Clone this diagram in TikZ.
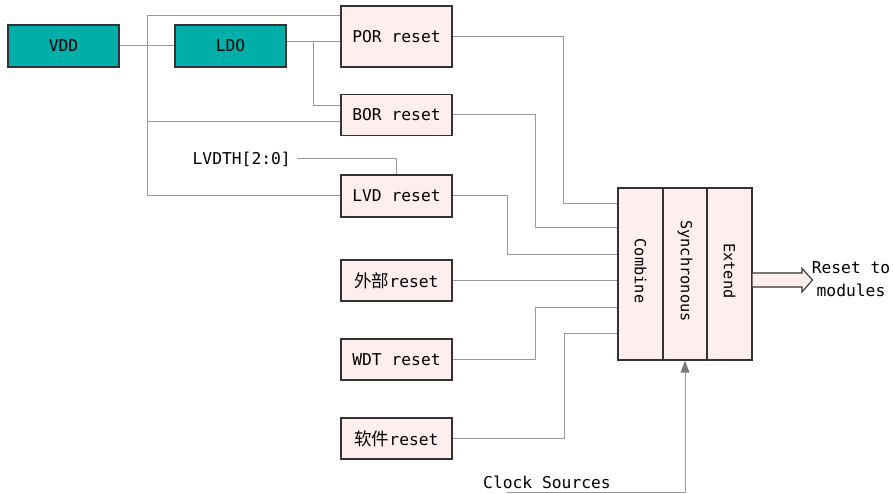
\documentclass[tikz,border=0pt]{standalone}
\usepackage{fontspec}
\setmonofont{DejaVu Sans Mono}
\newfontfamily\cjk{Noto Sans CJK SC}
\definecolor{teal1}{HTML}{00AFAA}
\definecolor{pink1}{HTML}{FFEEEE}
\definecolor{wire1}{HTML}{999999}
\definecolor{edge1}{HTML}{333333}
\begin{document}
\begin{tikzpicture}[x=1pt,y=-1pt,
  every node/.style={font=\ttfamily\fontsize{16.3}{23}\selectfont, inner sep=0pt},
  pwr/.style={draw=edge1, line width=1.1pt, fill=teal1, minimum width=111pt, minimum height=42pt},
  rbox/.style={draw=edge1, line width=1.1pt, fill=pink1, minimum width=111pt, minimum height=41pt},
  col/.style={draw=edge1, line width=1.1pt, fill=pink1, minimum height=172pt},
  wire/.style={draw=wire1, line width=1pt},
  lbl/.style={rotate=-90, font=\ttfamily\fontsize{15.3}{18}\selectfont}]
\useasboundingbox (0,0) rectangle (893,494);
% boxes
\node[pwr] (vdd) at (63.5,46) {VDD};
\node[pwr] (ldo) at (230.5,46) {LDO};
\node[rbox, minimum height=61pt] (por) at (396.5,36.5) {POR reset};
\node[rbox] (bor) at (396.5,115) {BOR reset};
\node[rbox, minimum height=42pt] (lvd) at (396.5,196) {LVD reset};
\node[rbox] (ext) at (396.5,280.5) {{\cjk\fontsize{17.5}{20}\selectfont 外部}reset};
\node[rbox] (wdt) at (396.5,359.5) {WDT reset};
\node[rbox] (sw) at (396.5,438.5) {{\cjk\fontsize{17.5}{20}\selectfont 软件}reset};
\node[col, minimum width=45pt] (comb) at (640.5,274) {};
\node[col, minimum width=44pt] (sync) at (685,274) {};
\node[col, minimum width=45pt] (extd) at (729.5,274) {};
\node[lbl] (tcomb) at (640.5,271) {Combine};
\node[lbl] (tsync) at (685,271) {Synchronous};
\node[lbl] (text) at (729.5,271) {Extend};
\node[anchor=east] (lvdth) at (291,159) {LVDTH[2:0]};
\node (clk) at (547,482) {Clock Sources};
\node[align=center] (rst) at (851,279.5) {Reset to\\modules};
% helper coordinates
\coordinate (bus) at (147,0);
\coordinate (y16) at (0,16);
\coordinate (y42) at (0,42);
\coordinate (y106) at (0,106);
\coordinate (y122) at (0,122);
\coordinate (tap) at (313,0);
\coordinate (in1) at (0,204);
\coordinate (in2) at (0,228);
\coordinate (in3) at (0,254);
\coordinate (in4) at (0,280.5);
\coordinate (in5) at (0,307);
\coordinate (in6) at (0,333);
\coordinate (clkstart) at (507,492);
% left wiring
\draw[wire] (vdd.east) -- (ldo.west);
\draw[wire] (por.west |- y16) -| (bus |- lvd.west) -- (lvd.west);
\draw[wire] (bus |- y122) -- (bor.west |- y122);
\draw[wire] (ldo.east |- y42) -- (por.west |- y42);
\draw[wire] (tap |- y42) |- (bor.west |- y106);
\draw[wire] (lvdth.east) ++(6,0) -| (lvd.north);
% right wiring
\draw[wire] (por.east) -| (563,204) -- (comb.west |- in1);
\draw[wire] (bor.east) -| (535,228) -- (comb.west |- in2);
\draw[wire] (lvd.east) -| (507.5,254) -- (comb.west |- in3);
\draw[wire] (ext.east) -- (comb.west |- in4);
\draw[wire] (wdt.east) -| (535.5,307) -- (comb.west |- in5);
\draw[wire] (sw.east) -| (564,333) -- (comb.west |- in6);
\draw[wire] (clkstart) -| ([yshift=-11pt]sync.south);
\fill[wire1!80!black] (sync.south) -- ++(-4.5,12) -- ++(9,0) -- cycle;
% output arrow
\draw[draw=edge1, line width=1.1pt, fill=pink1] (extd.east |- 0,273) -- (802,273) -- (802,268.5) -- (812.5,280) -- (802,292) -- (802,287) -- (extd.east |- 0,287);
\end{tikzpicture}
\end{document}
